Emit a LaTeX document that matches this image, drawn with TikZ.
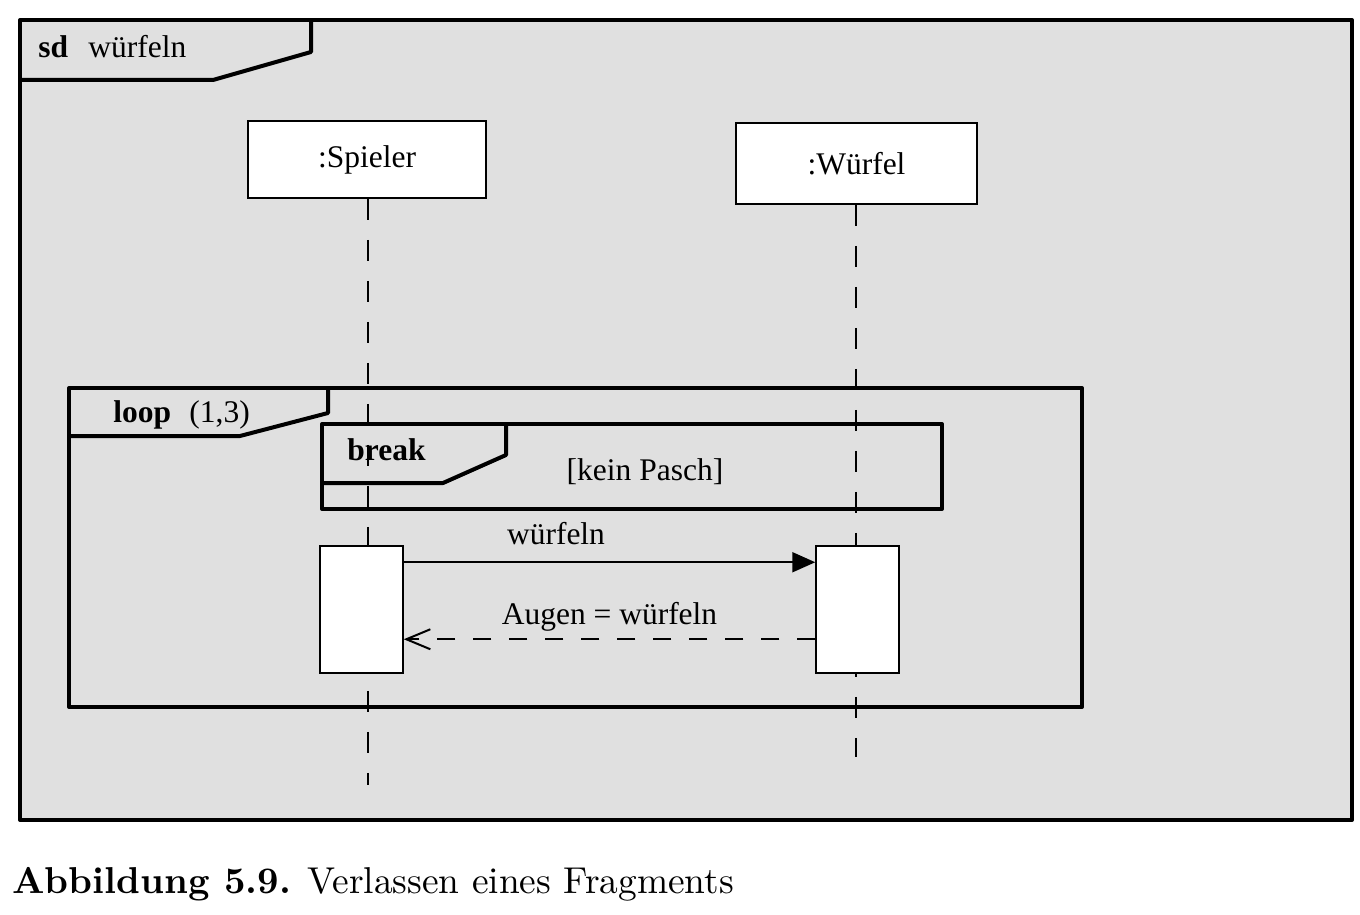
\documentclass[tikz,border=0pt]{standalone}
\usepackage{fontspec}
\setmainfont{Liberation Serif}
\newfontfamily\capfont{lmroman10-regular.otf}[BoldFont=lmroman10-bold.otf]
\usepackage{xcolor}
\usetikzlibrary{arrows.meta, positioning}
\definecolor{rahmengrau}{HTML}{E0E0E0}
\tikzset{
  rahmen/.style={line width=2pt, line join=round},
  kopf/.style={draw, fill=white, line width=0.75pt, font=\fontsize{15.75}{18}\selectfont},
  aktiv/.style={draw, fill=white, line width=0.75pt, minimum width=41.5pt, minimum height=63.5pt},
  lebenslinie/.style={line width=0.6pt, dash pattern=on 10.5pt off 10pt},
  aufruf/.style={line width=1pt, -{Triangle[length=11.5pt,width=10pt]}},
  antwort/.style={line width=1pt, dash pattern=on 9pt off 9pt, -{Straight Barb[length=12pt,width=10pt]}},
  txt/.style={font=\fontsize{15.75}{18}\selectfont, inner sep=0pt},
}

\begin{document}
\begin{tikzpicture}[x=0.5pt, y=-0.5pt]
  \useasboundingbox (0,0) rectangle (1360,915);
  % Rahmen sd
  \draw[rahmen, fill=rahmengrau] (20,20) rectangle (1352,820);
  \draw[rahmen] (20,80) -- (213,80) -- (311,52) -- (311,20);
  \node[txt, anchor=base west] (sdkw) at (38,58) {\textbf{sd}};
  \node[txt, anchor=base west] (sdname) at (88,58) {würfeln};

  % Lebenslinien-Koepfe
  \node[kopf, minimum width=119pt, minimum height=38.5pt] (spieler) at (367,159.5) {:Spieler};
  \node[kopf, minimum width=120.5pt, minimum height=40.5pt] (wuerfel) at (856.5,163.5) {:Würfel};

  % Fragment loop
  \draw[rahmen] (69,388) rectangle (1082,707);
  \draw[rahmen] (69,436) -- (240,436) -- (328,413) -- (328,388);
  \node[txt, anchor=base west] (loopkw) at (113,422) {\textbf{loop}};
  \node[txt, anchor=base west] (loopzahl) at (189,422) {(1,3)};

  % Fragment break
  \draw[rahmen] (322,424) rectangle (942,509);
  \draw[rahmen] (322,483) -- (443,483) -- (506,455) -- (506,424);
  \node[txt, anchor=base west] (breakkw) at (347,460) {\textbf{break}};
  \node[txt, anchor=base] (guard) at (645,480) {[kein Pasch]};

  % Lebenslinien
  \coordinate (endeS) at (368,785);
  \coordinate (endeW) at (856,757);
  \draw[lebenslinie] (spieler.south -| endeS) -- (endeS);
  \draw[lebenslinie] (wuerfel.south -| endeW) -- (endeW);

  % Aktivierungen
  \node[aktiv] (aktS) at (361.5,609.5) {};
  \node[aktiv] (aktW) at (857.5,609.5) {};

  % Nachrichten
  \draw[aufruf] ([yshift=-8.5pt]aktS.north east) --
    node[txt, pos=0.37, anchor=base, yshift=9pt] (msg) {würfeln}
    ([yshift=-8.5pt]aktW.north west);
  \draw[antwort] ([yshift=-47pt]aktW.north west) --
    node[txt, pos=0.5, anchor=base, yshift=7.5pt] (ret) {Augen = würfeln}
    ([yshift=-47pt]aktS.north east);

  % Bildunterschrift
  \node[anchor=base west, inner sep=0pt, font=\capfont\fontsize{18.7}{22}\selectfont] (caption)
    at (12,893) {\textbf{Abbildung 5.9.} Verlassen eines Fragments};
\end{tikzpicture}
\end{document}
